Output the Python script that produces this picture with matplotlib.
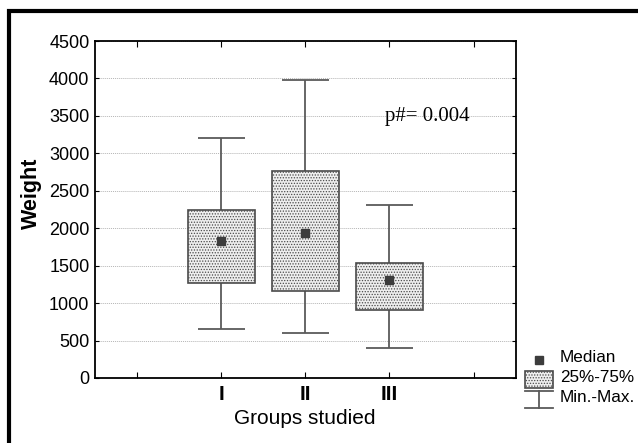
import matplotlib
matplotlib.use("Agg")
import matplotlib.pyplot as plt
from matplotlib.patches import Rectangle
from matplotlib.lines import Line2D

groups = ["I", "II", "III"]
mins = [650, 600, 395]
q1 = [1275, 1165, 905]
medians = [1830, 1940, 1315]
q3 = [2240, 2765, 1530]
maxs = [3205, 3975, 2310]

plt.rcParams["font.family"] = ["Liberation Sans", "DejaVu Sans"]
plt.rcParams["hatch.color"] = "#7a7a7a"
plt.rcParams["hatch.linewidth"] = 0.6

W, H = 638, 443
fig = plt.figure(figsize=(W / 100, H / 100), dpi=100)


def fx(x):
    return x / W


def fy(y):
    return 1 - y / H


ax = fig.add_axes([fx(95), fy(378), fx(515.6) - fx(95), fy(41) - fy(378)])

pos = [1, 2, 3]
heights = [b - a for a, b in zip(q1, q3)]
ax.bar(pos, heights, bottom=q1, width=0.8, facecolor="#eeeeee",
       edgecolor="#4a4a4a", linewidth=1.2, hatch="......", zorder=3)
ax.vlines(pos, q3, maxs, color="#5a5a5a", linewidth=1.3, zorder=2)
ax.vlines(pos, mins, q1, color="#5a5a5a", linewidth=1.3, zorder=2)
ax.hlines(maxs, [p - 0.28 for p in pos], [p + 0.28 for p in pos],
          color="#5a5a5a", linewidth=1.3, zorder=2)
ax.hlines(mins, [p - 0.28 for p in pos], [p + 0.28 for p in pos],
          color="#5a5a5a", linewidth=1.3, zorder=2)
ax.scatter(pos, medians, marker="s", s=30, color="#3c3c3c", zorder=4)

ax.set_xlim(-0.5, 4.5)
ax.set_ylim(0, 4500)
ax.set_xticks([0, 1, 2, 3, 4])
ax.set_xticklabels([""] + groups + [""], fontsize=15, fontweight="bold")
ax.set_yticks(range(0, 4501, 500))
ax.tick_params(axis="y", labelsize=13, direction="in", length=3,
               right=True, pad=4)
ax.tick_params(axis="x", direction="in", length=4, top=True, pad=5)
ax.grid(axis="y", linestyle=(0, (1, 1)), color="#b5b5b5", linewidth=0.7,
        zorder=0)
for s in ax.spines.values():
    s.set_linewidth(1.3)

fig.text(fx(305), fy(418), "Groups studied", fontsize=15,
         ha="center", va="center")
fig.text(fx(31), fy(193.5), "Weight", fontsize=15.5, fontweight="bold",
         rotation=90, ha="center", va="center")

fig.text(fx(427), fy(116), "p#= 0.004", fontsize=15,
         family=["Liberation Serif", "DejaVu Serif"], ha="center", va="center")

# legend drawn by hand outside the axes
fig.add_artist(Line2D([fx(539)], [fy(360)], marker="s", markersize=5.5,
                      color="#3c3c3c", linestyle="none"))
fig.add_artist(Rectangle((fx(525), fy(388)), fx(553) - fx(525), fy(371) - fy(388),
                         facecolor="#eeeeee", edgecolor="#4a4a4a",
                         linewidth=1.2, hatch="......"))
for yy in (391, 408):
    fig.add_artist(Line2D([fx(525), fx(553)], [fy(yy), fy(yy)],
                          color="#5a5a5a", linewidth=1.3))
fig.add_artist(Line2D([fx(539), fx(539)], [fy(391), fy(408)],
                      color="#5a5a5a", linewidth=1.3))
for yy, label in ((358, "Median"), (378, "25%-75%"), (398, "Min.-Max.")):
    fig.text(fx(560), fy(yy), label, fontsize=12.3, va="center", ha="left")

# outer frame
fig.add_artist(Rectangle((fx(9), -0.2), 1.2, fy(11) + 0.2, fill=False,
                         edgecolor="black", linewidth=3))

fig.savefig("out.png", dpi=100)
